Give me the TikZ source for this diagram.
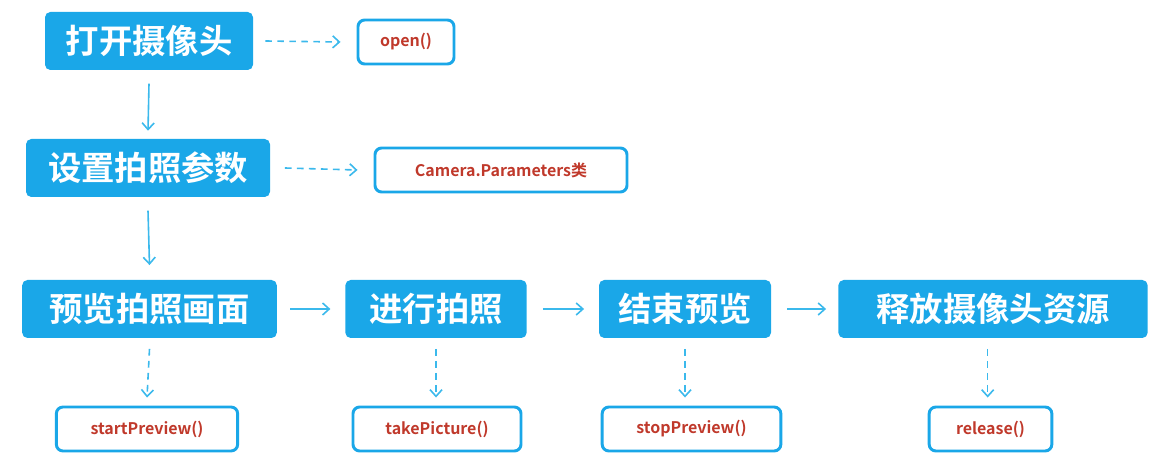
\documentclass[tikz,border=0pt]{standalone}
\usepackage{fontspec}
\setmainfont{Noto Sans CJK SC}[BoldFont={* Bold}]
\newfontfamily\cjkb{Noto Sans CJK SC Bold}
\usetikzlibrary{arrows.meta}
\definecolor{bx}{HTML}{1AA7E8}
\definecolor{ln}{HTML}{3BB9EC}
\definecolor{rd}{HTML}{C0392B}
\tikzset{x=0.75pt,y=-0.75pt,
 big/.style={fill=bx,rounded corners=4pt,text=white,font=\cjkb\fontsize{25}{28}\selectfont,inner sep=0pt,anchor=center},
 small/.style={draw=bx,line width=2.2pt,fill=white,rounded corners=5pt,text=rd,font=\bfseries\fontsize{12}{14}\selectfont,inner sep=0pt,anchor=center},
 sol/.style={ln,line width=1.2pt,-{Straight Barb[length=5pt,width=9pt]}},
 dsh/.style={sol,dashed,dash pattern=on 5pt off 4pt}}
\begin{document}
\begin{tikzpicture}
\useasboundingbox (0,0) rectangle (1159,466);
\node[big,minimum width=156pt,minimum height=43.5pt] (a) at (149,41) {打开摄像头};
\node[small,minimum width=72pt,minimum height=33pt] (ao) at (406,42) {open()};
\node[big,minimum width=183pt,minimum height=43.5pt] (b) at (148,168) {设置拍照参数};
\node[small,minimum width=189pt,minimum height=33pt] (bo) at (501,170) {Camera.Parameters类};
\node[big,minimum width=191pt,minimum height=43.5pt] (c) at (149.5,309) {预览拍照画面};
\node[big,minimum width=136pt,minimum height=43.5pt] (d) at (436,309) {进行拍照};
\node[big,minimum width=129pt,minimum height=43.5pt] (e) at (685,309) {结束预览};
\node[big,minimum width=232pt,minimum height=43.5pt] (f) at (993,309) {释放摄像头资源};
\node[small,minimum width=136pt,minimum height=33pt] (co) at (147,429) {startPreview()};
\node[small,minimum width=126pt,minimum height=33pt] (do) at (437,429) {takePicture()};
\node[small,minimum width=134pt,minimum height=33pt] (eo) at (691.5,429) {stopPreview()};
\node[small,minimum width=92pt,minimum height=33pt] (fo) at (990.5,429) {release()};
\draw[sol] ([yshift=-10pt]a.south) -- ([yshift=6pt]b.north);
\draw[sol] ([yshift=-10pt]b.south) -- ([yshift=11pt]c.north);
\draw[sol] ([xshift=10pt]c.east) -- ([xshift=-11pt]d.west);
\draw[sol] ([xshift=12pt]d.east) -- ([xshift=-11pt]e.west);
\draw[sol] ([xshift=12pt]e.east) -- ([xshift=-9pt]f.west);
\draw[dsh] ([xshift=9pt]a.east) -- ([xshift=-12pt]ao.west);
\draw[dsh] ([xshift=11pt]b.east) -- ([xshift=-12pt]bo.west);
\draw[dsh] (c.south) ++(0,-8pt) coordinate (c1) (c1) -- ([yshift=6pt]co.north);
\draw[dsh] (d.south) ++(0,-8pt) coordinate (d1) (d1) -- ([yshift=6pt]do.north-|d1);
\draw[dsh] (e.south) ++(0,-8pt) coordinate (e1) (e1) -- ([yshift=6pt]eo.north-|e1);
\draw[dsh] ([xshift=-4pt]f.south) ++(0,-8pt) coordinate (f1) (f1) -- ([yshift=6pt]fo.north-|f1);
\end{tikzpicture}
\end{document}
